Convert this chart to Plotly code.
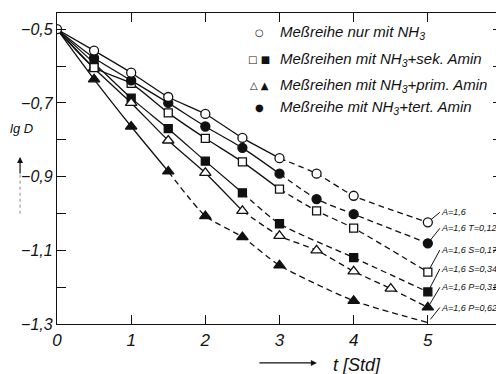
import plotly.graph_objects as go

# ---------------- data ----------------
t_nh3 = [0, 0.5, 1, 1.5, 2, 2.5, 3, 3.5, 4, 5]
y_nh3 = [-0.5, -0.558, -0.618, -0.684, -0.730, -0.795, -0.850, -0.892, -0.952, -1.024]

t_tert = [0, 0.5, 1, 1.5, 2, 2.5, 3, 3.5, 4, 5]
y_tert = [-0.5, -0.578, -0.639, -0.700, -0.764, -0.822, -0.892, -0.961, -1.002, -1.081]

t_sek17 = [0, 0.5, 1, 1.5, 2, 2.5, 3, 3.5, 4, 5]
y_sek17 = [-0.5, -0.604, -0.647, -0.727, -0.796, -0.860, -0.934, -0.993, -1.040, -1.159]

t_sek34 = [0, 0.5, 1, 1.5, 2, 2.5, 3, 4, 5]
y_sek34 = [-0.5, -0.592, -0.687, -0.770, -0.858, -0.944, -1.028, -1.120, -1.213]

t_prim31 = [0, 0.5, 1, 1.5, 2, 2.5, 3, 3.5, 4, 4.5, 5]
y_prim31 = [-0.5, -0.606, -0.700, -0.802, -0.890, -0.993, -1.061, -1.100, -1.157, -1.204, -1.255]

t_prim62 = [0, 0.5, 1, 1.5, 2, 2.5, 3, 4, 5]
y_prim62 = [-0.5, -0.636, -0.764, -0.886, -1.007, -1.064, -1.141, -1.237, -1.296]

end_labels = ["A=1,6", "A=1,6 T=0,12", "A=1,6 S=0,17", "A=1,6 S=0,34", "A=1,6 P=0,31", "A=1,6 P=0,62"]

legend_rows = [
    ("\u25CB", "Meßreihe nur mit NH<sub>3</sub>"),
    ("\u25A1 \u25A0", "Meßreihen mit NH<sub>3</sub>+sek. Amin"),
    ("\u25B3 \u25B2", "Meßreihen mit NH<sub>3</sub>+prim. Amin"),
    ("\u25CF", "Meßreihe mit NH<sub>3</sub>+tert. Amin"),
]

x_ticks = [0, 1, 2, 3, 4, 5, 6]
y_ticks = [-0.5, -0.7, -0.9, -1.1, -1.3]

# ---------------- style ----------------
FONT = "Liberation Sans, Arial, sans-serif"
INK = "#111111"

series = [
    # t, y, solid-until t, symbol, filled, marker size, marker start idx, marker end idx
    (t_sek34, y_sek34, 2.5, "square", True, 8, 1, None),
    (t_prim62, y_prim62, 1.5, "triangle-up", True, 10, 1, -1),
    (t_prim31, y_prim31, 2.5, "triangle-up", False, 10, 1, None),
    (t_sek17, y_sek17, 3.0, "square", False, 8, 1, None),
    (t_tert, y_tert, 3.0, "circle", True, 9, 1, None),
    (t_nh3, y_nh3, 3.0, "circle", False, 9, 0, None),
]

fig = go.Figure()

for t, y, tb, sym, filled, size, i0, i1 in series:
    k = t.index(tb)
    fig.add_trace(go.Scatter(x=t[:k + 1], y=y[:k + 1], mode="lines",
                             line=dict(color=INK, width=1.3, shape="spline", smoothing=0.6),
                             showlegend=False, hoverinfo="skip"))
    fig.add_trace(go.Scatter(x=t[k:], y=y[k:], mode="lines",
                             line=dict(color=INK, width=1.3, dash="6px,4px", shape="spline", smoothing=0.6),
                             showlegend=False, hoverinfo="skip"))

for t, y, tb, sym, filled, size, i0, i1 in series:
    tm = t[i0:i1] if i1 is not None else t[i0:]
    ym = y[i0:i1] if i1 is not None else y[i0:]
    if filled:
        colors = [INK] * len(tm)
    else:
        colors = ["white"] * len(tm)
        if sym == "triangle-up":
            colors[-1] = INK  # last point drawn filled in the original
    fig.add_trace(go.Scatter(x=tm, y=ym, mode="markers",
                             marker=dict(symbol=sym, size=size, color=colors,
                                         line=dict(color=INK, width=1.3)),
                             showlegend=False, hoverinfo="skip"))

# end labels with leader lines
end_series = [(t_nh3, y_nh3), (t_tert, y_tert), (t_sek17, y_sek17),
              (t_sek34, y_sek34), (t_prim31, y_prim31), (t_prim62, y_prim62)]
label_dy = [-10, -15, -22, -23, -20, -15]
for (t, y), lab, dy in zip(end_series, end_labels, label_dy):
    fig.add_annotation(x=t[-1], y=y[-1], xref="x", yref="y", text="<i>" + lab + "</i>",
                       showarrow=True, arrowhead=0, arrowwidth=1, arrowcolor=INK,
                       axref="pixel", ayref="pixel", ax=12, ay=dy, xanchor="left", yanchor="middle",
                       font=dict(family=FONT, size=9, color=INK), standoff=4, borderpad=0)

# legend built from text
leg_y = [0.936, 0.849, 0.768, 0.695]
for (glyph, txt), yy in zip(legend_rows, leg_y):
    fig.add_annotation(x=0.455, y=yy, xref="paper", yref="paper", text=glyph,
                       showarrow=False, xanchor="center", yanchor="middle",
                       font=dict(family="DejaVu Sans", size=10, color=INK))
    fig.add_annotation(x=0.497, y=yy, xref="paper", yref="paper", text="<i>" + txt + "</i>",
                       showarrow=False, xanchor="left", yanchor="middle",
                       font=dict(family=FONT, size=15, color=INK))

# axis titles
fig.add_annotation(x=-0.079, y=0.63, xref="paper", yref="paper", text="<i>lg D</i>",
                   showarrow=False, xanchor="center", yanchor="middle",
                   font=dict(family=FONT, size=13, color=INK))
fig.add_annotation(x=-0.083, y=0.537, xref="paper", yref="paper", text="",
                   showarrow=True, arrowhead=2, arrowsize=1, arrowwidth=1.2, arrowcolor=INK,
                   axref="pixel", ayref="pixel", ax=0, ay=18)
fig.add_shape(type="line", xref="paper", yref="paper", x0=-0.083, x1=-0.083, y0=0.48, y1=0.35,
              line=dict(color="#888888", width=1, dash="dot"))
fig.add_annotation(x=0.584, y=-0.125, xref="paper", yref="paper", text="",
                   showarrow=True, arrowhead=2, arrowsize=1, arrowwidth=1.2, arrowcolor=INK,
                   axref="pixel", ayref="pixel", ax=-59, ay=0)
fig.add_annotation(x=0.674, y=-0.132, xref="paper", yref="paper", text="<i>t [Std]</i>",
                   showarrow=False, xanchor="center", yanchor="middle",
                   font=dict(family=FONT, size=18, color=INK))

fig.update_xaxes(range=[0, 6], tickvals=x_ticks, ticks="inside", ticklen=9, tickwidth=1.2,
                 tickcolor=INK, showline=True, linecolor=INK, linewidth=1.3, mirror="ticks",
                 showgrid=False, zeroline=False, automargin=False,
                 tickfont=dict(family=FONT, size=17, color=INK, style="italic"))
fig.update_yaxes(range=[-1.3, -0.456], tickvals=y_ticks, tickformat=".1f", ticks="inside",
                 ticklen=9, tickwidth=1.2, tickcolor=INK, showline=True, linecolor=INK,
                 linewidth=1.3, mirror="ticks", showgrid=False, zeroline=False, automargin=False,
                 minor=dict(dtick=0.1, tick0=-0.5, ticks="inside", ticklen=9, tickcolor=INK,
                            tickwidth=1.2, showgrid=False),
                 tickfont=dict(family=FONT, size=16, color=INK, style="italic"))

# page body adds an 8px margin, so the figure is 8px smaller than the window
fig.update_layout(template="none", width=496, height=366, margin=dict(l=49, r=2, t=5, b=50),
                  paper_bgcolor="white", plot_bgcolor="white", separators=",.",
                  showlegend=False)

fig.write_html("out.html")
